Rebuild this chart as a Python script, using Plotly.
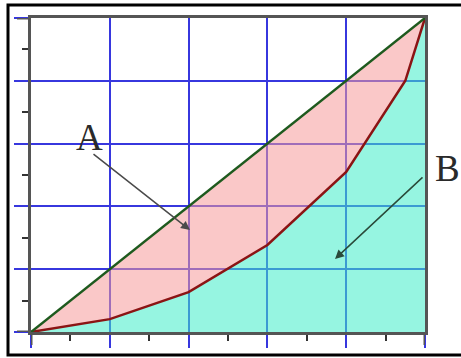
import plotly.graph_objects as go

# Lorenz curve data (cumulative share of population vs. cumulative share of income)
pop_share = [0, 0.2, 0.4, 0.6, 0.8, 0.95, 1.0]
income_share = [0, 0.041, 0.127, 0.277, 0.51, 0.80, 1.0]
# Line of perfect equality
equality_x = [0, 1]
equality_y = [0, 1]
# Grid / tick positions
major_ticks = [0, 0.2, 0.4, 0.6, 0.8, 1.0]
minor_ticks = [0.1, 0.3, 0.5, 0.7, 0.9]
area_labels = ["A", "B"]

W, H = 461, 358
ML, MR, MT, MB = 31, 36, 18, 26
PW, PH = W - ML - MR, H - MT - MB

def px_x(p):
    return (p - ML) / PW

def px_y(p):
    return (H - MB - p) / PH

BLUE = "rgb(55,55,222)"
AXIS = "#555555"

fig = go.Figure()
fig.add_trace(go.Scatter(
    x=pop_share, y=income_share, mode="lines",
    line=dict(color="#8b1414", width=2.5),
    fill="tozeroy", fillcolor="rgba(64,237,200,0.55)",
    hoverinfo="skip", showlegend=False))
fig.add_trace(go.Scatter(
    x=equality_x, y=equality_y, mode="lines",
    line=dict(color="#1e5a1e", width=2.5),
    fill="tonexty", fillcolor="rgba(246,155,155,0.55)",
    hoverinfo="skip", showlegend=False))

axis_common = dict(
    range=[0, 1], showgrid=True, gridcolor=BLUE, gridwidth=2,
    tickvals=major_ticks, ticks="outside", tickcolor=BLUE, tickwidth=2,
    showticklabels=False, showline=True, linecolor=AXIS, linewidth=3,
    mirror=True, zeroline=False, fixedrange=True,
    minor=dict(tickvals=minor_ticks, ticks="outside", ticklen=6,
               tickcolor="#333333", tickwidth=2, showgrid=False),
)
fig.update_xaxes(**axis_common, ticklen=13)
fig.update_yaxes(**axis_common, ticklen=14)

shapes = []
# gray extensions of the frame at both ends of each axis
for v in (major_ticks[0], major_ticks[-1]):
    shapes.append(dict(type="line", xref="x", yref="paper", x0=v, x1=v,
                       y0=px_y(345), y1=0, line=dict(color=AXIS, width=3)))
    shapes.append(dict(type="line", xref="paper", yref="y", x0=px_x(17), x1=0,
                       y0=v, y1=v, line=dict(color=AXIS, width=3)))
# black outer border: left, top and bottom (right side runs off the picture)
border = dict(color="black", width=3)
bx0, bx1, by0, by1 = px_x(8), px_x(490), px_y(355), px_y(5)
shapes.append(dict(type="path", xref="paper", yref="paper",
                   path=f"M {bx1},{by1} L {bx0},{by1} L {bx0},{by0} L {bx1},{by0}",
                   line=border))

label_font = dict(family="Liberation Serif", size=37, color="#2a2a2a")
annotations = [
    dict(x=px_x(89), y=px_y(137), xref="paper", yref="paper", text=area_labels[0],
         xanchor="center", yanchor="middle", showarrow=False, font=label_font),
    dict(x=px_x(447), y=px_y(168), xref="paper", yref="paper", text=area_labels[1],
         xanchor="center", yanchor="middle", showarrow=False, font=label_font),
    dict(x=px_x(190), y=px_y(230), xref="x", yref="y", text="",
         ax=px_x(92), ay=px_y(153), axref="x", ayref="y",
         showarrow=True, arrowhead=2, arrowsize=1.2, arrowwidth=1.5, arrowcolor="#4a4a4a"),
    dict(x=px_x(335), y=px_y(259), xref="x", yref="y", text="",
         ax=px_x(424), ay=px_y(176), axref="x", ayref="y",
         showarrow=True, arrowhead=2, arrowsize=1.2, arrowwidth=1.5, arrowcolor="#2a4a3a"),
]

fig.update_layout(
    width=W, height=H, autosize=False,
    margin=dict(l=ML, r=MR, t=MT, b=MB, pad=0),
    paper_bgcolor="white", plot_bgcolor="white",
    shapes=shapes, annotations=annotations, showlegend=False,
)

fig.write_html("out.html", config={"displayModeBar": False},
               post_script="document.body.style.margin='0';document.body.style.overflow='hidden';")
